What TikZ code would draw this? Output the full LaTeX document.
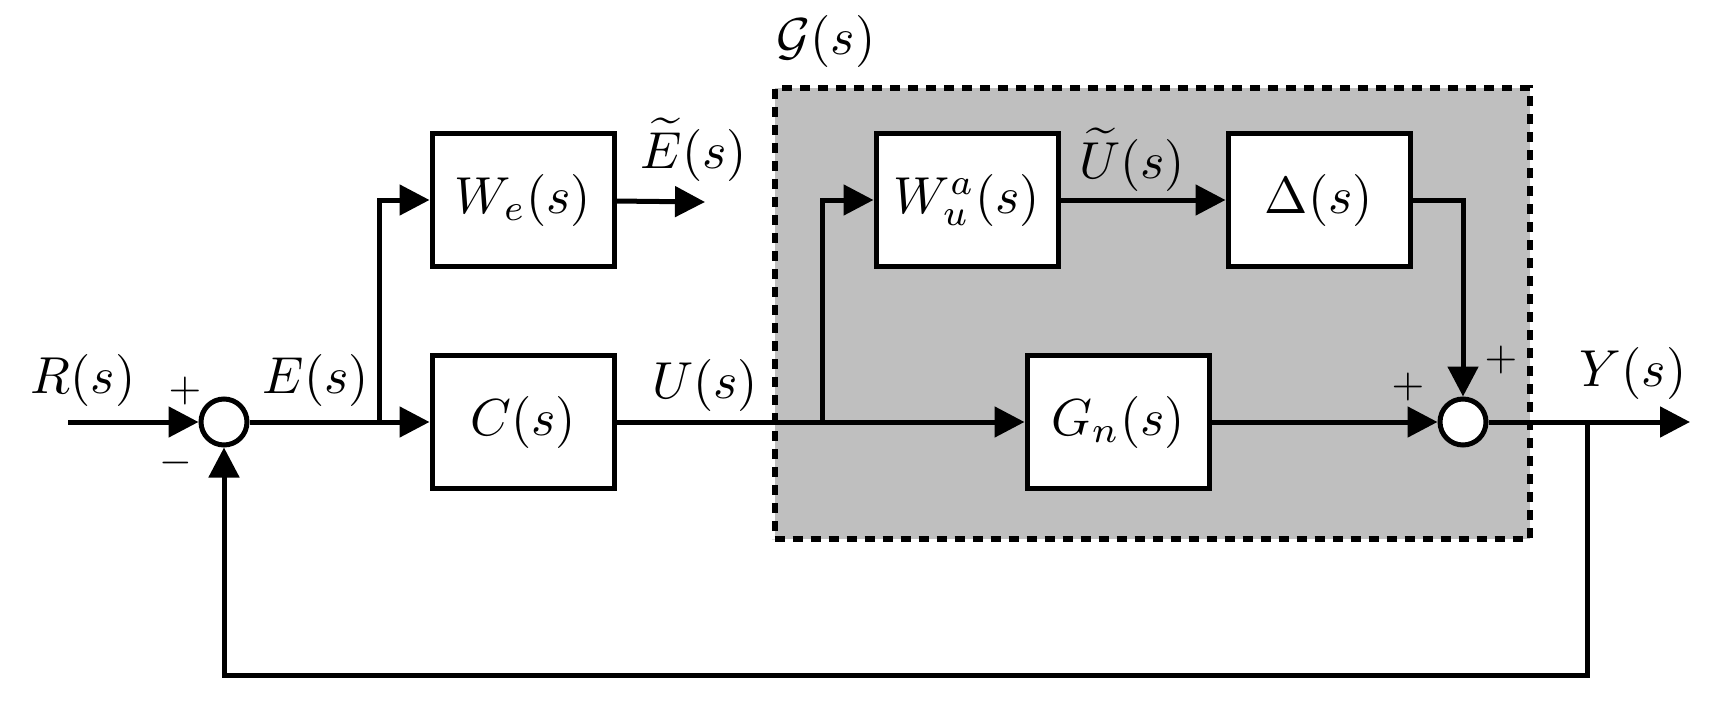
\documentclass[tikz,border=0pt]{standalone}
\usepackage{graphicx}
\usetikzlibrary{arrows.meta}
\newcommand{\bx}[1]{\scalebox{5.2}{$#1$}}
\newcommand{\sg}[1]{\scalebox{4.2}{$#1$}}
\begin{document}
\begin{tikzpicture}[x=1pt,y=-1pt,line width=5pt,
  blk/.style={draw,fill=white,minimum width=182pt,minimum height=133pt,inner sep=0pt},
  sum/.style={circle,draw,fill=white,minimum size=46pt,inner sep=0pt},
  lbl/.style={inner sep=0pt},
  ar/.style={-{Triangle[length=30pt,width=30pt]}}]
\useasboundingbox (0,0) rectangle (1719,706);
\node[draw,dashed,dash pattern=on 10pt off 8pt,line width=6pt,fill=black!25,minimum width=755pt,minimum height=451pt,inner sep=0pt] (G) at (1152,313.5) {};
\node[sum] (s1) at (224,422) {};
\node[blk] (We) at (523,200) {\bx{W_e(s)}};
\node[blk] (C) at (523,422) {\bx{C(s)}};
\node[blk] (Wu) at (967,200) {\bx{W_u^a(s)}};
\node[blk] (D) at (1319,200) {\bx{\Delta(s)}};
\node[blk] (Gn) at (1118,422) {\bx{G_n(s)}};
\node[sum] (s2) at (1463,422) {};
\coordinate (in) at (68,422);
\coordinate (eb) at (379,422);
\coordinate (eo) at (705,202);
\coordinate (ub) at (822,422);
\coordinate (yb) at (1587,422);
\coordinate (out) at (1690,422);
\draw[ar] (in) -- (s1);
\draw[ar] (s1) -- (C);
\draw[ar] (eb) |- (We);
\draw[ar] (We) -- (eo);
\draw[ar] (C) -- (Gn);
\draw[ar] (ub) |- (Wu);
\draw[ar] (Wu) -- (D);
\draw[ar] (D) -| (s2);
\draw[ar] (Gn) -- (s2);
\draw[ar] (s2) -- (out);
\draw[ar] (yb) -- (1587,675) -| (s1);
\tikzset{every node/.append style={lbl}}
\node (lR) at (83,380) {\bx{R(s)}};
\node (lE) at (316,380) {\bx{E(s)}};
\node (lU) at (705,385) {\bx{U(s)}};
\node (lEt) at (694,150) {\bx{\widetilde{E}(s)}};
\node (lUt) at (1132,160) {\bx{\widetilde{U}(s)}};
\node (lG) at (826,42) {\bx{\mathcal{G}(s)}};
\node (lY) at (1633,373) {\bx{Y(s)}};
\node (p1) at (185,391) {\sg{+}};
\node (m1) at (176,463) {\sg{-}};
\node (p2) at (1408,387) {\sg{+}};
\node (p3) at (1501,360) {\sg{+}};
\end{tikzpicture}
\end{document}
